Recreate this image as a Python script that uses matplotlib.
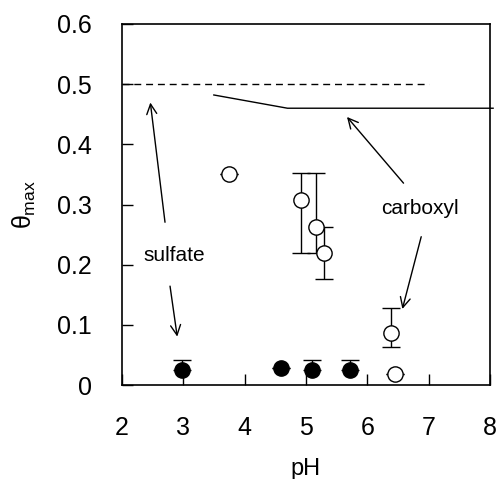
import matplotlib.pyplot as plt

plt.rcParams["font.family"] = ["Liberation Sans", "DejaVu Sans"]
plt.rcParams["mathtext.fontset"] = "custom"
plt.rcParams["mathtext.rm"] = "Liberation Sans"
plt.rcParams["mathtext.it"] = "Liberation Sans"

# open circles (carboxyl)
ph_open = [3.75, 4.92, 5.16, 5.29, 6.38, 6.45]
theta_open = [0.350, 0.307, 0.262, 0.219, 0.087, 0.019]
err_open_lo = [0.0, 0.087, 0.042, 0.043, 0.023, 0.0]
err_open_hi = [0.0, 0.045, 0.090, 0.043, 0.041, 0.0]

# filled circles (sulfate)
ph_fill = [2.98, 4.60, 5.10, 5.72]
theta_fill = [0.025, 0.029, 0.025, 0.025]
err_fill_hi = [0.017, 0.0, 0.017, 0.017]

# theoretical limits
dash_x = [2.0, 7.0]
dash_y = [0.5, 0.5]
solid_x = [3.5, 4.7, 8.05]
solid_y = [0.482, 0.460, 0.460]

fig = plt.figure(figsize=(4.97, 4.79), dpi=100)
ax = fig.add_axes([0.245, 0.196, 0.741, 0.754])

ax.plot(dash_x, dash_y, color="black", lw=1.0, dashes=(5, 3.5))
ax.plot(solid_x, solid_y, color="black", lw=1.0, clip_on=False)

ax.errorbar(ph_open, theta_open, yerr=[err_open_lo, err_open_hi], fmt="o",
            mfc="white", mec="black", mew=1.0, ms=11, ecolor="black",
            elinewidth=1.0, capsize=6.5, capthick=1.0, zorder=3)
ax.errorbar(ph_fill, theta_fill, yerr=[[0] * len(err_fill_hi), err_fill_hi], fmt="o",
            mfc="black", mec="black", ms=11, ecolor="black",
            elinewidth=1.0, capsize=6.5, capthick=1.0, zorder=3)

arrow = dict(arrowstyle="->", color="black", lw=1.0, mutation_scale=18)
ax.annotate("", xy=(2.46, 0.474), xytext=(2.71, 0.266), arrowprops=arrow)
ax.annotate("", xy=(2.91, 0.076), xytext=(2.78, 0.169), arrowprops=arrow)
ax.annotate("", xy=(5.64, 0.449), xytext=(6.62, 0.332), arrowprops=arrow)
ax.annotate("", xy=(6.56, 0.122), xytext=(6.89, 0.251), arrowprops=arrow)
ax.text(2.86, 0.216, "sulfate", ha="center", va="center", fontsize=15)
ax.text(6.86, 0.294, "carboxyl", ha="center", va="center", fontsize=15)

ax.set_xlim(2, 8)
ax.set_ylim(0, 0.6)
ax.set_xticks([2, 3, 4, 5, 6, 7, 8])
ax.set_yticks([0, 0.1, 0.2, 0.3, 0.4, 0.5, 0.6])
ax.set_yticklabels(["0", "0.1", "0.2", "0.3", "0.4", "0.5", "0.6"])
ax.tick_params(axis="x", direction="in", length=8, width=1.0, pad=22, labelsize=18)
ax.tick_params(axis="y", direction="in", length=8, width=1.0, pad=21.5, labelsize=18)
for s in ax.spines.values():
    s.set_linewidth(1.2)
ax.set_xlabel("pH", fontsize=17, labelpad=13)
ax.set_ylabel(r"$\theta_{\mathrm{max}}$", fontsize=18, labelpad=14)

fig.savefig("out.png", dpi=100)
